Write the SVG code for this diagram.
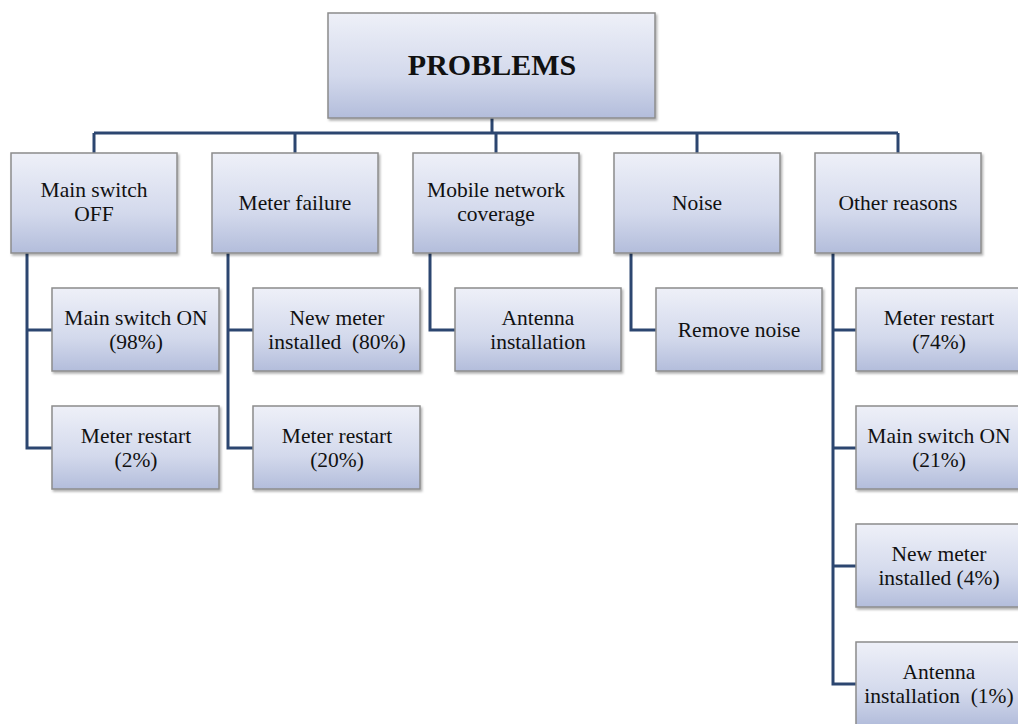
<svg xmlns="http://www.w3.org/2000/svg" width="1018" height="724" viewBox="0 0 1018 724">
<defs>
<linearGradient id="g" x1="0" y1="0" x2="0" y2="1">
<stop offset="0" stop-color="#eef0f8"/>
<stop offset="0.6" stop-color="#d3d9ec"/>
<stop offset="1" stop-color="#b3bddb"/>
</linearGradient>
<filter id="sh" x="-5%" y="-5%" width="115%" height="120%">
<feDropShadow dx="1.5" dy="2" stdDeviation="1.2" flood-color="#000" flood-opacity="0.3"/>
</filter>
</defs>
<style>
rect.box{fill:url(#g);stroke:#8c8c8c;stroke-width:1.5;filter:url(#sh)}
text{font-family:"Liberation Serif","Times New Roman",serif;font-size:21.5px;fill:#111;text-anchor:middle;white-space:pre}
text.t{font-size:30px;font-weight:bold}
#connectors path{fill:none;stroke:#2c4670;stroke-width:3}
</style>
<rect width="1018" height="724" fill="#fff"/>
<g id="connectors">
<path d="M492 118V133M94 133H898M94 133V153M295 133V153M496 133V153M697 133V153M898 133V153"/>
<path d="M27 253V448H52M27 330H52"/>
<path d="M228 253V448H253M228 330H253"/>
<path d="M430 253V330H455"/>
<path d="M631 253V330H656"/>
<path d="M833 253V684H856M833 330H856M833 448H856M833 566H856"/>
</g>
<g id="root"><rect class="box" x="328" y="13" width="327" height="105"/><text class="t" x="492" y="75">PROBLEMS</text></g>
<g id="n1"><rect class="box" x="11" y="153" width="166" height="100"/><text x="94" y="197">Main switch</text><text x="94" y="221">OFF</text></g>
<g id="n2"><rect class="box" x="212" y="153" width="166" height="100"/><text x="295" y="210">Meter failure</text></g>
<g id="n3"><rect class="box" x="413" y="153" width="166" height="100"/><text x="496" y="197">Mobile network</text><text x="496" y="221">coverage</text></g>
<g id="n4"><rect class="box" x="614" y="153" width="166" height="100"/><text x="697" y="210">Noise</text></g>
<g id="n5"><rect class="box" x="815" y="153" width="166" height="100"/><text x="898" y="210">Other reasons</text></g>
<g id="n1a"><rect class="box" x="52" y="288" width="167" height="83"/><text x="136" y="325">Main switch ON</text><text x="136" y="349">(98%)</text></g>
<g id="n1b"><rect class="box" x="52" y="406" width="167" height="83"/><text x="136" y="443">Meter restart</text><text x="136" y="467">(2%)</text></g>
<g id="n2a"><rect class="box" x="253" y="288" width="167" height="83"/><text x="337" y="325">New meter</text><text x="337" y="349">installed  (80%)</text></g>
<g id="n2b"><rect class="box" x="253" y="406" width="167" height="83"/><text x="337" y="443">Meter restart</text><text x="337" y="467">(20%)</text></g>
<g id="n3a"><rect class="box" x="455" y="288" width="166" height="83"/><text x="538" y="325">Antenna</text><text x="538" y="349">installation</text></g>
<g id="n4a"><rect class="box" x="656" y="288" width="166" height="83"/><text x="739" y="337">Remove noise</text></g>
<g id="n5a"><rect class="box" x="856" y="288" width="166" height="83"/><text x="939" y="325">Meter restart</text><text x="939" y="349">(74%)</text></g>
<g id="n5b"><rect class="box" x="856" y="406" width="166" height="83"/><text x="939" y="443">Main switch ON</text><text x="939" y="467">(21%)</text></g>
<g id="n5c"><rect class="box" x="856" y="524" width="166" height="83"/><text x="939" y="561">New meter</text><text x="939" y="585">installed (4%)</text></g>
<g id="n5d"><rect class="box" x="856" y="642" width="166" height="83"/><text x="939" y="679">Antenna</text><text x="939" y="703">installation  (1%)</text></g>
</svg>
